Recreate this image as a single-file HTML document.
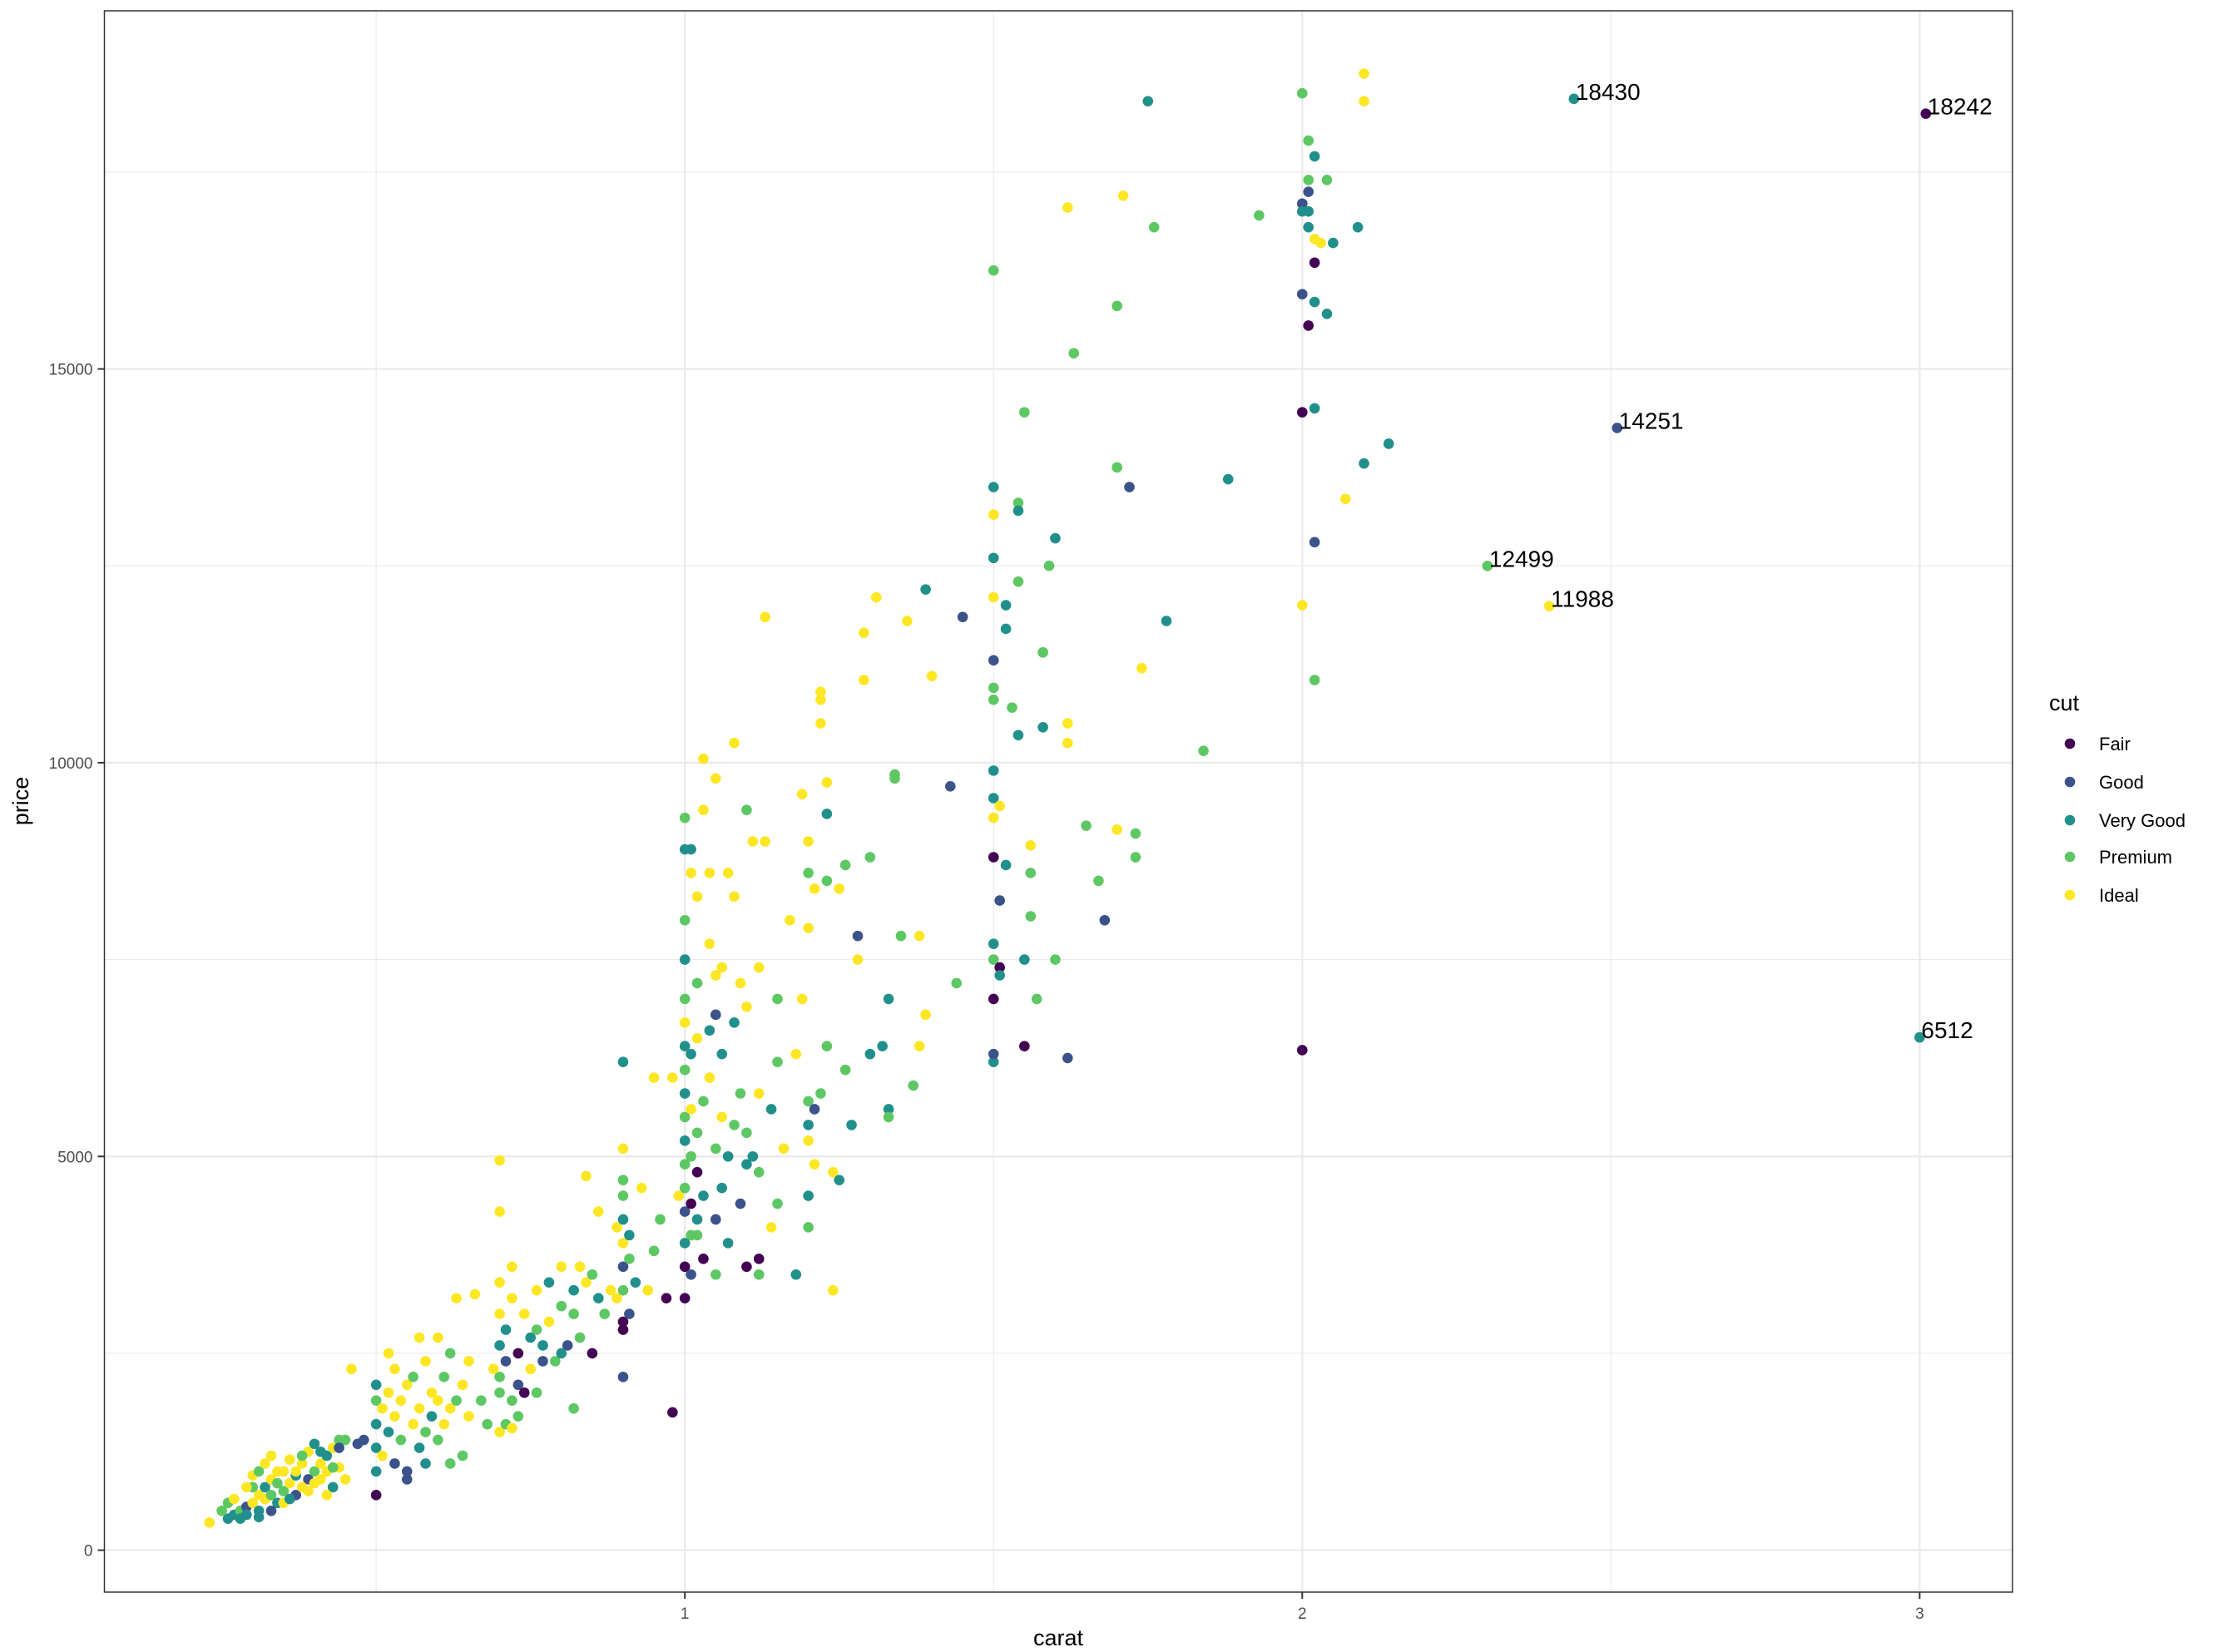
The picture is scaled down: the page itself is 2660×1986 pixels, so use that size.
<!DOCTYPE html>
<html><head><meta charset="utf-8"><style>
html,body{margin:0;padding:0;background:#fff;}
svg{display:block;font-family:"Liberation Sans",Arial,sans-serif;}
</style></head><body>
<svg id="chart" width="2660" height="1986" viewBox="0 0 2660 1986" xmlns="http://www.w3.org/2000/svg">
<rect x="0" y="0" width="2660" height="1986" fill="#fff"/>
<g id="grid"></g>
<g id="points"></g>
<g id="labels"></g>
<rect x="125.5" y="13" width="2293.5" height="1901" fill="none" stroke="#333" stroke-width="1.5"/>
<g id="axes"></g>
<text x="1272" y="1978" font-size="27" text-anchor="middle" fill="#000">carat</text>
<text transform="translate(34,963) rotate(-90)" font-size="27" text-anchor="middle" fill="#000">price</text>
<g>
<text x="2463" y="854" font-size="27" fill="#000">cut</text>
<g id="legend-items"></g>
</g>
</svg>
<script>
const categories = ["Fair","Good","Very Good","Premium","Ideal"];
const palette = ["#440154","#3B528B","#21908C","#5DC863","#FDE725"];
const xTicks = [1,2,3];
const xTickLabels = ["1","2","3"];
const yTicks = [0,5000,10000,15000];
const yTickLabels = ["0","5000","10000","15000"];
const carat = [0.23,0.26,0.27,0.28,0.29,0.30,0.31,0.32,0.33,0.34,0.35,0.36,0.37,0.38,0.39,0.40,0.41,0.42,0.43,0.44,0.30,0.31,0.32,0.33,0.34,0.35,0.36,0.37,0.38,0.39,0.40,0.41,0.42,0.43,0.44,0.45,0.46,0.45,0.26,0.28,0.29,0.27,0.25,0.30,0.31,0.32,0.33,0.34,0.35,0.36,0.37,0.38,0.39,0.40,0.41,0.42,0.43,0.44,0.47,0.48,0.29,0.31,0.33,
0.50,0.50,0.50,0.50,0.50,0.50,0.51,0.51,0.52,0.52,0.52,0.53,0.53,0.54,0.54,0.55,0.55,0.56,0.56,0.57,0.57,0.58,0.58,0.59,0.59,0.60,0.60,0.60,0.61,0.61,0.62,0.62,0.63,0.63,0.64,0.64,0.65,0.65,0.66,0.67,0.68,0.69,0.70,0.70,0.71,0.72,0.55,0.58,0.53,0.57,0.62,
0.70,0.70,0.70,0.70,0.70,0.70,0.71,0.71,0.72,0.72,0.72,0.73,0.73,0.74,0.74,0.75,0.75,0.76,0.76,0.77,0.77,0.78,0.78,0.79,0.80,0.80,0.80,0.81,0.82,0.82,0.83,0.83,0.84,0.84,0.85,0.85,0.86,0.86,0.87,0.88,0.89,0.89,0.90,0.90,0.90,0.90,0.90,0.90,0.90,0.90,0.90,0.90,0.90,0.91,0.91,0.91,0.92,0.93,0.94,0.95,0.95,0.96,0.97,0.98,0.98,0.99,0.82,0.76,0.73,
1.00,1.00,1.00,1.00,1.00,1.00,1.00,1.00,1.00,1.00,1.00,1.00,1.00,1.00,1.00,1.00,1.00,1.01,1.01,1.01,1.01,1.01,1.01,1.01,1.01,1.02,1.02,1.02,1.02,1.02,1.02,1.03,1.03,1.03,1.03,1.03,1.04,1.04,1.04,1.04,1.05,1.05,1.05,1.05,1.05,1.06,1.06,1.06,1.06,1.07,1.07,1.08,1.08,1.08,1.08,1.09,1.09,1.09,1.10,1.10,1.10,1.10,1.10,1.11,1.11,1.12,1.12,1.12,1.12,1.12,1.13,1.13,1.14,1.14,1.15,1.15,1.16,1.17,1.18,1.19,1.19,1.20,1.20,1.20,1.20,1.20,1.20,1.20,1.20,1.21,1.21,1.21,1.22,1.22,1.22,1.22,1.23,1.23,1.23,1.23,1.24,1.24,1.25,1.25,1.26,1.26,1.27,1.28,1.28,1.29,1.29,1.30,1.30,1.31,1.32,1.33,1.34,1.34,1.35,1.36,1.37,1.38,1.38,1.39,1.40,1.39,1.44,1.43,1.45,1.33,1.33,1.05,1.07,1.15,1.18,1.02,
1.50,1.50,1.50,1.50,1.50,1.50,1.50,1.50,1.50,1.50,1.50,1.50,1.50,1.50,1.50,1.50,1.50,1.51,1.51,1.51,1.51,1.52,1.52,1.52,1.53,1.54,1.54,1.54,1.54,1.55,1.55,1.55,1.56,1.56,1.56,1.57,1.58,1.58,1.59,1.60,1.60,1.62,1.62,1.62,1.62,1.63,1.65,1.67,1.68,1.70,1.70,1.70,1.72,1.73,1.73,1.74,1.71,1.75,1.76,1.78,1.84,1.88,1.93,
2.00,2.00,2.00,2.00,2.00,2.00,2.01,2.01,2.01,2.01,2.01,2.01,2.02,2.02,2.02,2.02,2.02,2.02,2.03,2.04,2.04,2.05,2.07,2.09,2.10,2.10,2.10,2.14,2.00,2.02,
2.44,3.01,2.51,2.30,2.40,3.00];
const price = [350,400,450,500,550,600,700,800,900,1000,750,850,950,1100,900,1000,1100,1200,1300,1400,800,500,650,700,600,1000,1150,700,800,1250,1350,900,1000,800,1050,900,2300,1400,600,400,800,650,500,950,1000,1100,1200,850,600,650,1000,1200,750,850,1250,700,1050,1300,1350,1400,450,420,500,
700,1000,1300,1600,1900,2100,1200,1800,1500,2000,2500,1700,1100,1400,1900,2100,1000,1600,2200,1800,1300,2400,1500,2000,1700,1900,2700,1400,2200,1600,1800,2500,1900,3200,2100,1200,1700,2400,3250,1900,1600,2300,1500,2000,1600,1550,900,1100,2300,2700,1100,
2600,3000,3400,4300,4950,2200,2800,2400,3200,1900,3600,2500,2100,3000,2000,2700,2300,2800,3300,2600,2400,2900,3400,2400,3600,2500,3100,2600,3300,3000,3600,2700,4750,3400,2500,3500,4300,3200,3000,3300,4100,3200,2900,3300,3600,3900,4200,4500,4700,5100,6200,2200,2800,3000,4000,3700,3400,4600,3300,3800,6000,4200,3200,6000,1750,4500,1800,2000,1700,
3200,3600,3900,4300,4600,4900,5200,5500,5800,6100,6400,6700,7000,7500,8000,8900,9300,3500,4000,4400,5000,5600,6300,8600,8900,4800,4200,5300,6500,7200,8300,3700,4500,5700,9400,10050,6000,6600,7700,8600,4200,5100,6800,7300,9800,4600,5500,6300,7400,5000,8600,5400,6700,8300,10250,4400,5800,7200,3600,4900,5300,6900,9400,5000,9000,3700,3500,4800,5800,7400,11850,9000,4100,5600,6200,7000,5100,8000,6300,9600,7000,5400,5700,5200,4500,4100,7900,8600,9000,8400,5600,4900,5800,10500,10800,10900,9350,9750,6400,8500,3300,4800,4700,8400,6100,8700,5400,7800,7500,11050,11650,8800,6300,12100,6400,7000,9850,9800,7800,11800,5900,6400,7800,6800,11100,12200,7200,9700,11850,5600,5500,3500,3900,4400,3500,4000,
6200,6300,7000,7500,7700,8800,9300,9550,9900,10800,10950,11300,12100,12600,13150,13500,16250,7400,8250,9450,7300,12000,11700,8700,10700,10350,12300,13300,13200,14450,6400,7500,8950,8600,8050,7000,10450,11400,12500,7500,12850,6250,10250,10500,17050,15200,9200,8500,8000,13750,15800,9150,13500,9100,8800,11200,17200,18400,16800,11800,10150,13600,16950,
6350,12000,14450,15950,17100,18500,15550,16800,17000,17250,17400,17900,16350,15850,12800,14500,11050,17700,16600,17400,15700,16600,13350,16800,18750,18400,13800,14050,17000,16650,
18430,18242,14251,12499,11988,6512];
const cut = [4,2,2,3,1,4,4,2,4,4,3,4,2,4,1,3,4,2,4,3,3,2,4,3,2,4,4,1,4,4,2,4,4,2,4,4,4,3,3,2,4,4,3,4,3,4,4,3,4,2,4,3,4,4,2,4,3,1,1,1,2,2,1,
0,2,2,2,3,2,4,4,2,4,4,4,1,3,4,4,1,4,3,4,2,4,3,4,2,4,4,3,3,4,4,3,3,4,4,3,4,4,4,3,3,4,4,3,3,4,1,2,4,4,3,
2,4,4,4,4,3,2,1,4,3,4,0,1,4,0,2,4,3,4,2,1,4,2,3,4,2,3,1,2,3,4,3,4,4,0,3,4,2,3,4,4,4,0,3,1,4,2,3,3,4,2,1,0,1,2,3,2,4,4,3,4,3,0,4,0,4,3,3,3,
0,0,2,1,3,3,2,3,2,3,2,4,3,2,3,2,3,1,3,0,3,4,2,4,2,0,2,3,4,3,4,0,2,3,4,4,4,2,4,4,1,3,1,4,4,2,4,2,4,2,4,3,2,4,4,1,3,4,0,2,3,4,3,2,4,0,3,3,4,4,4,4,4,2,3,3,4,4,4,4,4,2,3,4,2,3,4,3,4,4,1,4,3,4,4,4,2,4,3,3,4,4,2,4,3,3,2,1,4,4,4,3,2,4,2,2,3,3,3,4,3,4,4,4,4,2,3,1,1,2,3,3,2,3,2,3,
2,1,0,3,2,0,4,2,2,3,3,1,4,2,4,2,3,0,1,4,2,2,2,2,3,2,3,3,2,3,0,2,4,3,3,3,2,3,3,3,2,1,4,4,4,3,3,3,1,3,3,4,1,3,3,4,4,2,3,2,3,2,3,
0,4,0,1,1,3,0,2,2,1,3,3,0,2,1,2,3,2,4,3,2,2,4,2,4,4,2,2,2,4,
2,0,1,3,4,2];
const labelCarat = [2.44,3.01,2.51,2.30,2.40,3.00];
const labelPrice = [18430,18242,14251,12499,11988,6512];
const labelText = ["18430","18242","14251","12499","11988","6512"];

const NS = "http://www.w3.org/2000/svg";
const X0 = 125.5, X1 = 2419, Y0 = 13, Y1 = 1914;
function xScale(v){ return 81.1 + v * 742.1; }
function yScale(v){ return 1863.6 - v * 0.09467; }
function mk(tag, attrs, parent){
  const e = document.createElementNS(NS, tag);
  for (const k in attrs) e.setAttribute(k, attrs[k]);
  parent.appendChild(e);
  return e;
}
const grid = document.getElementById('grid');
const minorX = [0.5,1.5,2.5], minorY = [2500,7500,12500,17500];
minorX.forEach(v => {
  const l = mk('line', {x1:xScale(v), x2:xScale(v), y1:Y0, y2:Y1, stroke:'#ebebeb', 'stroke-width':1.2}, grid);
  
  
});
minorY.forEach(v => {
  const l = mk('line', {x1:X0, x2:X1, y1:yScale(v), y2:yScale(v), stroke:'#ebebeb', 'stroke-width':1.2}, grid);
  
  
});
xTicks.forEach(v => {
  const l = mk('line', {x1:xScale(v), x2:xScale(v), y1:Y0, y2:Y1, stroke:'#ebebeb', 'stroke-width':2.4}, grid);
  
  
});
yTicks.forEach(v => {
  const l = mk('line', {x1:X0, x2:X1, y1:yScale(v), y2:yScale(v), stroke:'#ebebeb', 'stroke-width':2.4}, grid);
  
  
});
const axes = document.getElementById('axes');
xTicks.forEach((v, i) => {
  const t = mk('line', {x1:xScale(v), x2:xScale(v), y1:Y1, y2:Y1+8, stroke:'#333', 'stroke-width':2}, axes);
  
  
  const tx = mk('text', {x:xScale(v), y:Y1+32, 'font-size':19, 'text-anchor':'middle', fill:'#4d4d4d'}, axes);
  tx.textContent = xTickLabels[i];
  
  
});
yTicks.forEach((v, i) => {
  const t = mk('line', {x1:X0-8, x2:X0, y1:yScale(v), y2:yScale(v), stroke:'#333', 'stroke-width':2}, axes);
  
  
  const tx = mk('text', {x:X0-14, y:yScale(v)+7, 'font-size':19, 'text-anchor':'end', fill:'#4d4d4d'}, axes);
  tx.textContent = yTickLabels[i];
  
  
});
const pts = document.getElementById('points');
for (let i = 0; i < carat.length; i++) {
  const c = mk('circle', {cx:xScale(carat[i]), cy:yScale(price[i]), r:6.3, fill:palette[cut[i]]}, pts);
  
  
}
const labs = document.getElementById('labels');
for (let i = 0; i < labelText.length; i++) {
  const t = mk('text', {x:xScale(labelCarat[i]) + 2, y:yScale(labelPrice[i]) + 1, 'font-size':28, fill:'#000'}, labs);
  t.textContent = labelText[i];
  
  
}
const leg = document.getElementById('legend-items');
const legY = [894,940,986,1030,1076];
categories.forEach((c, i) => {
  const g = mk('g', {}, leg);
  
  
  const d = mk('circle', {cx:2488, cy:legY[i], r:6.3, fill:palette[i]}, g);
  
  
  const t = mk('text', {x:2523, y:legY[i]+8, 'font-size':22, fill:'#000'}, g);
  t.textContent = c;
  
  
});
</script>
</body></html>
